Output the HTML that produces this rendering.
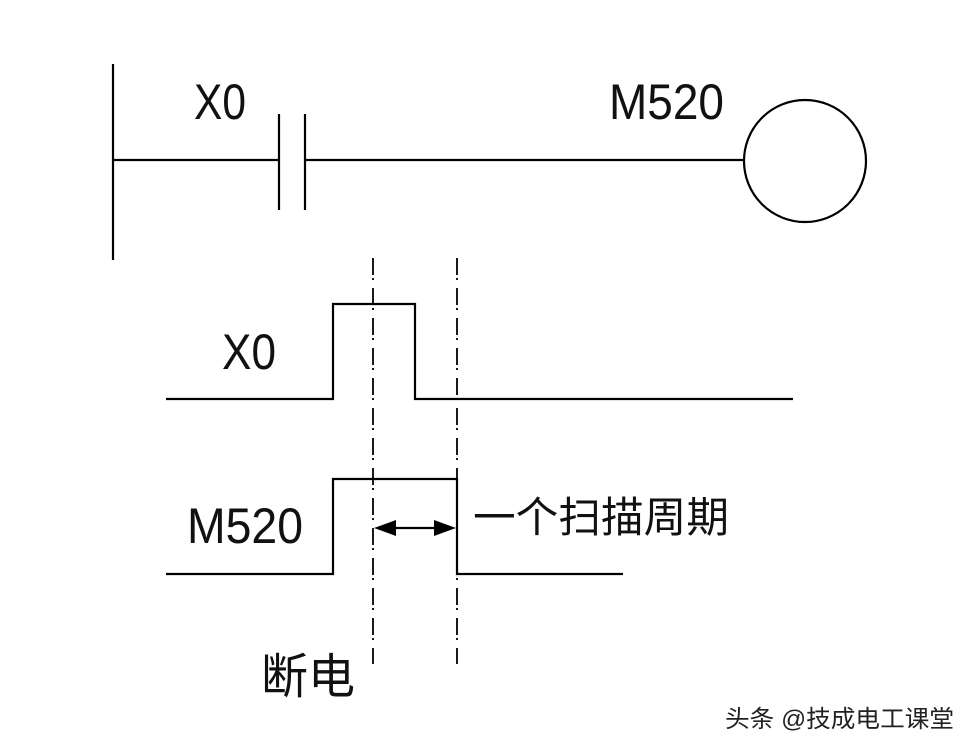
<!DOCTYPE html>
<html><head><meta charset="utf-8"><style>
html,body{margin:0;padding:0;background:#fff;}
svg{display:block;}
</style></head><body>
<svg width="976" height="754" viewBox="0 0 976 754" xmlns="http://www.w3.org/2000/svg">
<rect width="976" height="754" fill="#ffffff"/>
<g stroke="#000" stroke-width="2.2" fill="none">
  <line x1="113" y1="64" x2="113" y2="260"/>
  <line x1="113" y1="160" x2="279" y2="160"/>
  <line x1="279" y1="114" x2="279" y2="210"/>
  <line x1="305" y1="114" x2="305" y2="210"/>
  <line x1="305" y1="160" x2="744" y2="160"/>
  <circle cx="805" cy="161" r="61"/>
  <polyline points="166,399 333,399 333,304 415,304 415,399 793,399"/>
  <polyline points="166,574 333,574 333,479 457,479 457,574 623,574"/>
  <line x1="373" y1="258" x2="373" y2="664" stroke-dasharray="17 3 2 8" stroke-width="1.8"/>
  <line x1="457" y1="258" x2="457" y2="664" stroke-dasharray="17 3 2 8" stroke-width="1.8"/>
  <line x1="390" y1="528" x2="440" y2="528"/>
</g>
<polygon points="374,528 396,520 396,536" fill="#000"/>
<polygon points="456,528 434,520 434,536" fill="#000"/>
<g font-family="'Liberation Sans','Noto Sans CJK SC',sans-serif" fill="#111" font-size="50">
  <text x="194" y="119" textLength="52" lengthAdjust="spacingAndGlyphs">X0</text>
  <text x="609" y="119" textLength="115" lengthAdjust="spacingAndGlyphs">M520</text>
  <text x="222" y="369" textLength="54" lengthAdjust="spacingAndGlyphs">X0</text>
  <text x="187" y="543" textLength="116" lengthAdjust="spacingAndGlyphs">M520</text>
</g>
<g font-family="'Liberation Sans','Noto Sans CJK SC',sans-serif" fill="#111">
  <text x="473" y="532" font-size="42" textLength="256" lengthAdjust="spacingAndGlyphs">一个扫描周期</text>
  <text x="261" y="693" font-size="48" textLength="94" lengthAdjust="spacingAndGlyphs">断电</text>
  <text x="725" y="727" font-size="24" fill="#222" textLength="229" lengthAdjust="spacingAndGlyphs">头条 @技成电工课堂</text>
</g>
</svg>
</body></html>
